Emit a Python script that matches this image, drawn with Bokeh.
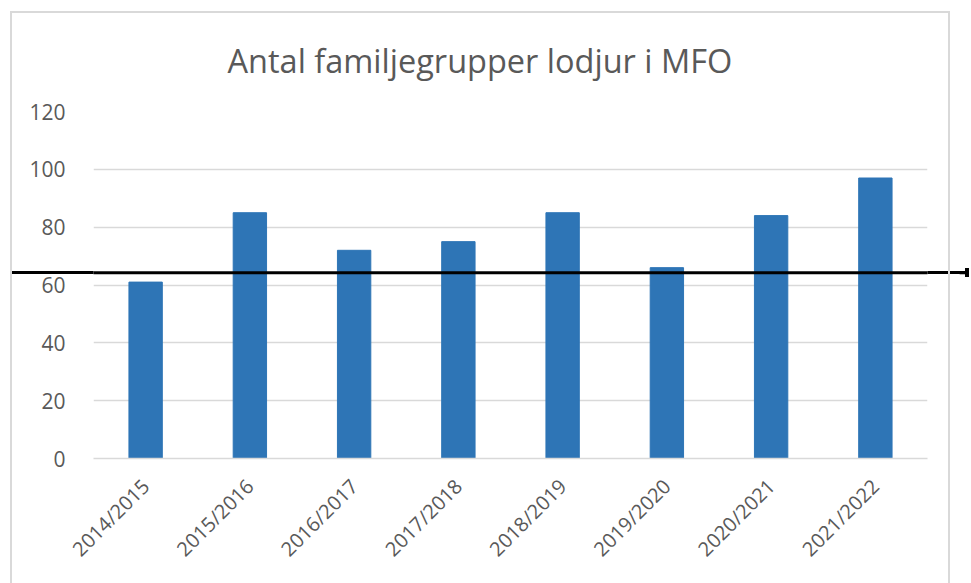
from bokeh.plotting import figure
from bokeh.models import FixedTicker, Arrow, NormalHead, ColumnDataSource
from bokeh.embed import file_html
from bokeh.resources import INLINE
import math

# ---- data ----
seasons = ["2014/2015", "2015/2016", "2016/2017", "2017/2018",
           "2018/2019", "2019/2020", "2020/2021", "2021/2022"]
groups = [61, 85, 72, 75, 85, 66, 84, 97]
y_ticks = [0, 20, 40, 60, 80, 100, 120]
title_text = "Antal familjegrupper lodjur i MFO"
line_level = 64.2  # black reference line drawn over the chart

FONT = "Open Sans"
TXT = "#595959"
GRID = "#d9d9d9"
BAR = "#2e75b6"

src = ColumnDataSource(dict(x=seasons, y=groups))

p = figure(x_range=seasons, y_range=(0, 120), width=971, height=583,
           output_backend="svg", toolbar_location=None,
           min_border_left=93, min_border_right=44,
           min_border_top=111, min_border_bottom=125)

p.vbar(x="x", top="y", width=0.32, source=src, fill_color=BAR, line_color=BAR)

p.title.text = title_text
p.title.align = "left"
p.title.offset = 134
p.title.text_font = FONT
p.title.text_font_size = "32.5px"
p.title.text_font_style = "normal"
p.title.text_color = TXT
p.title.standoff = 58

p.outline_line_color = None
p.background_fill_color = "white"
p.border_fill_color = None

p.xgrid.grid_line_color = None
p.ygrid.grid_line_color = GRID
p.ygrid.grid_line_width = 1.5

p.yaxis.ticker = FixedTicker(ticks=y_ticks)
p.yaxis.axis_line_color = None
p.yaxis.major_tick_line_color = None
p.yaxis.minor_tick_line_color = None
p.yaxis.major_label_text_font = FONT
p.yaxis.major_label_text_font_size = "21px"
p.yaxis.major_label_text_color = TXT
p.yaxis.major_label_standoff = 22

p.xaxis.axis_line_color = GRID
p.xaxis.axis_line_width = 1.5
p.xaxis.major_tick_line_color = None
p.xaxis.minor_tick_line_color = None
p.xaxis.major_label_orientation = math.pi / 4
p.xaxis.major_label_text_font = FONT
p.xaxis.major_label_text_font_size = "20px"
p.xaxis.major_label_text_color = TXT
p.xaxis.major_label_standoff = 18

# black drawn line with arrow (body inside the frame, head at the right edge)
p.add_layout(Arrow(x_start=-0.80, x_end=8.375, y_start=line_level, y_end=line_level,
                   line_color="black", line_width=3,
                   end=NormalHead(size=7, fill_color="black", line_color="black")))

# decorative chart-box border and the drawn line's parts outside the plot frame
g = GRID
p.styles = {
    "background-color": "white",
    "background-image": ", ".join([
        f"linear-gradient({g},{g})",       # left border
        f"linear-gradient({g},{g})",       # top border
        f"linear-gradient({g},{g})",       # right border
        "linear-gradient(#000,#000)",      # drawn line, left part
        "linear-gradient(#000,#000)",      # drawn line, right part
        "linear-gradient(#000,#000)",      # small arrow tip at the right
    ]),
    "background-position": "10px 11px, 10px 11px, 948px 11px, 10px 271px, 925px 271px, 965px 268px",
    "background-size": "2px 600px, 940px 2px, 2px 600px, 85px 3px, 42px 3px, 4px 9px",
    "background-repeat": "no-repeat",
}

open("out.html", "w").write(file_html(p, INLINE))
